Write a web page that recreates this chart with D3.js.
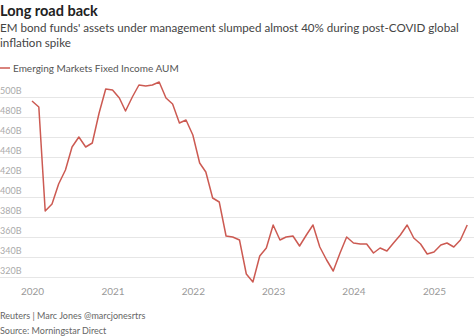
<!DOCTYPE html>
<html>
<head>
<meta charset="utf-8">
<script src="https://cdn.jsdelivr.net/npm/d3@7"></script>
<style>
  body { margin: 0; background: #fff; }
  svg { display: block; font-family: Lato, "Open Sans", sans-serif; }
</style>
</head>
<body>
<div id="chart"></div>
<script>
// monthly AUM, $bn, Jan 2020 - Jun 2025
var startMonth = "2020-01";
var aum2020 = [496, 490, 386, 393, 413, 427, 450, 460, 450, 454, 484, 508];
var aum2021 = [507, 499, 486, 500, 512, 511, 512, 515, 499, 493, 474, 477];
var aum2022 = [462, 434, 425, 399, 395, 361, 360, 357, 323, 315, 341, 349];
var aum2023 = [372, 357, 360, 361, 351, 362, 372, 350, 337, 326, 344, 360];
var aum2024 = [354, 353, 353, 344, 349, 346, 354, 362, 372, 359, 353, 343];
var aum2025 = [345, 352, 354, 350, 357, 372];

var yTicks = [320, 340, 360, 380, 400, 420, 440, 460, 480, 500];
var xTickYears = [2020, 2021, 2022, 2023, 2024, 2025];

var title = "Long road back";
var subtitle = ["EM bond funds' assets under management slumped almost 40% during post-COVID global",
                "inflation spike"];
var seriesName = "Emerging Markets Fixed Income AUM";
var credits = ["Reuters | Marc Jones @marcjonesrtrs", "Source: Morningstar Direct"];

var width = 474, height = 336;
var lineColor = "#cc5a52";

var parseMonth = d3.timeParse("%Y-%m");
var start = parseMonth(startMonth);
var values = [].concat(aum2020, aum2021, aum2022, aum2023, aum2024, aum2025);
var data = values.map(function(v, i) {
    return {date: d3.timeMonth.offset(start, i), value: v};
});

var svg = d3.select("#chart").append("svg")
    .attr("width", width)
    .attr("height", height);

var x = d3.scaleTime()
    .domain([new Date(2020, 0, 1), new Date(2025, 0, 1)])
    .range([32, 434]);
var y = d3.scaleLinear()
    .domain([320, 500])
    .range([277, 97]);

// header
svg.append("text")
    .attr("x", 0).attr("y", 16)
    .attr("font-size", 14.5).attr("font-weight", 700).attr("fill", "#222")
    .text(title);

svg.selectAll(".sub")
    .data(subtitle)
    .enter().append("text")
    .attr("class", "sub")
    .attr("x", 0)
    .attr("y", function(d, i) { return 32 + i * 15; })
    .attr("font-size", 11.6).attr("fill", "#444")
    .text(function(d) { return d; });

// legend
svg.append("line")
    .attr("x1", 0).attr("x2", 10).attr("y1", 68).attr("y2", 68)
    .attr("stroke", lineColor).attr("stroke-width", 1.5);
svg.append("text")
    .attr("x", 13).attr("y", 71.5)
    .attr("font-size", 10).attr("fill", "#555")
    .text(seriesName);

// y grid + labels
var yAxis = d3.axisRight(y)
    .tickValues(yTicks)
    .tickSize(width)
    .tickFormat(function(d) { return d + "B"; });

svg.append("g")
    .attr("class", "y-axis")
    .call(yAxis)
    .call(function(g) {
        g.select(".domain").remove();
        g.selectAll(".tick line").attr("stroke", "#e6e6e6").attr("stroke-width", 1);
        g.selectAll(".tick text")
            .attr("x", 0).attr("dy", -4)
            .attr("font-family", "Lato, sans-serif")
            .attr("font-size", 9).attr("fill", "#aaa");
    });

// x labels
var xAxis = d3.axisBottom(x)
    .tickValues(xTickYears.map(function(yr) { return new Date(yr, 0, 1); }))
    .tickSize(0)
    .tickFormat(d3.timeFormat("%Y"));

svg.append("g")
    .attr("class", "x-axis")
    .attr("transform", "translate(0,285)")
    .call(xAxis)
    .call(function(g) {
        g.select(".domain").remove();
        g.selectAll(".tick text")
            .attr("font-family", "Lato, sans-serif")
            .attr("font-size", 10).attr("fill", "#999");
    });

// line
var line = d3.line()
    .x(function(d) { return x(d.date); })
    .y(function(d) { return y(d.value); });

svg.append("path")
    .datum(data)
    .attr("fill", "none")
    .attr("stroke", lineColor)
    .attr("stroke-width", 1.5)
    .attr("stroke-linejoin", "round")
    .attr("d", line);

// footer
svg.selectAll(".credit")
    .data(credits)
    .enter().append("text")
    .attr("class", "credit")
    .attr("x", 0)
    .attr("y", function(d, i) { return 319 + i * 15; })
    .attr("font-size", 9).attr("fill", "#666")
    .text(function(d) { return d; });
</script>
</body>
</html>
